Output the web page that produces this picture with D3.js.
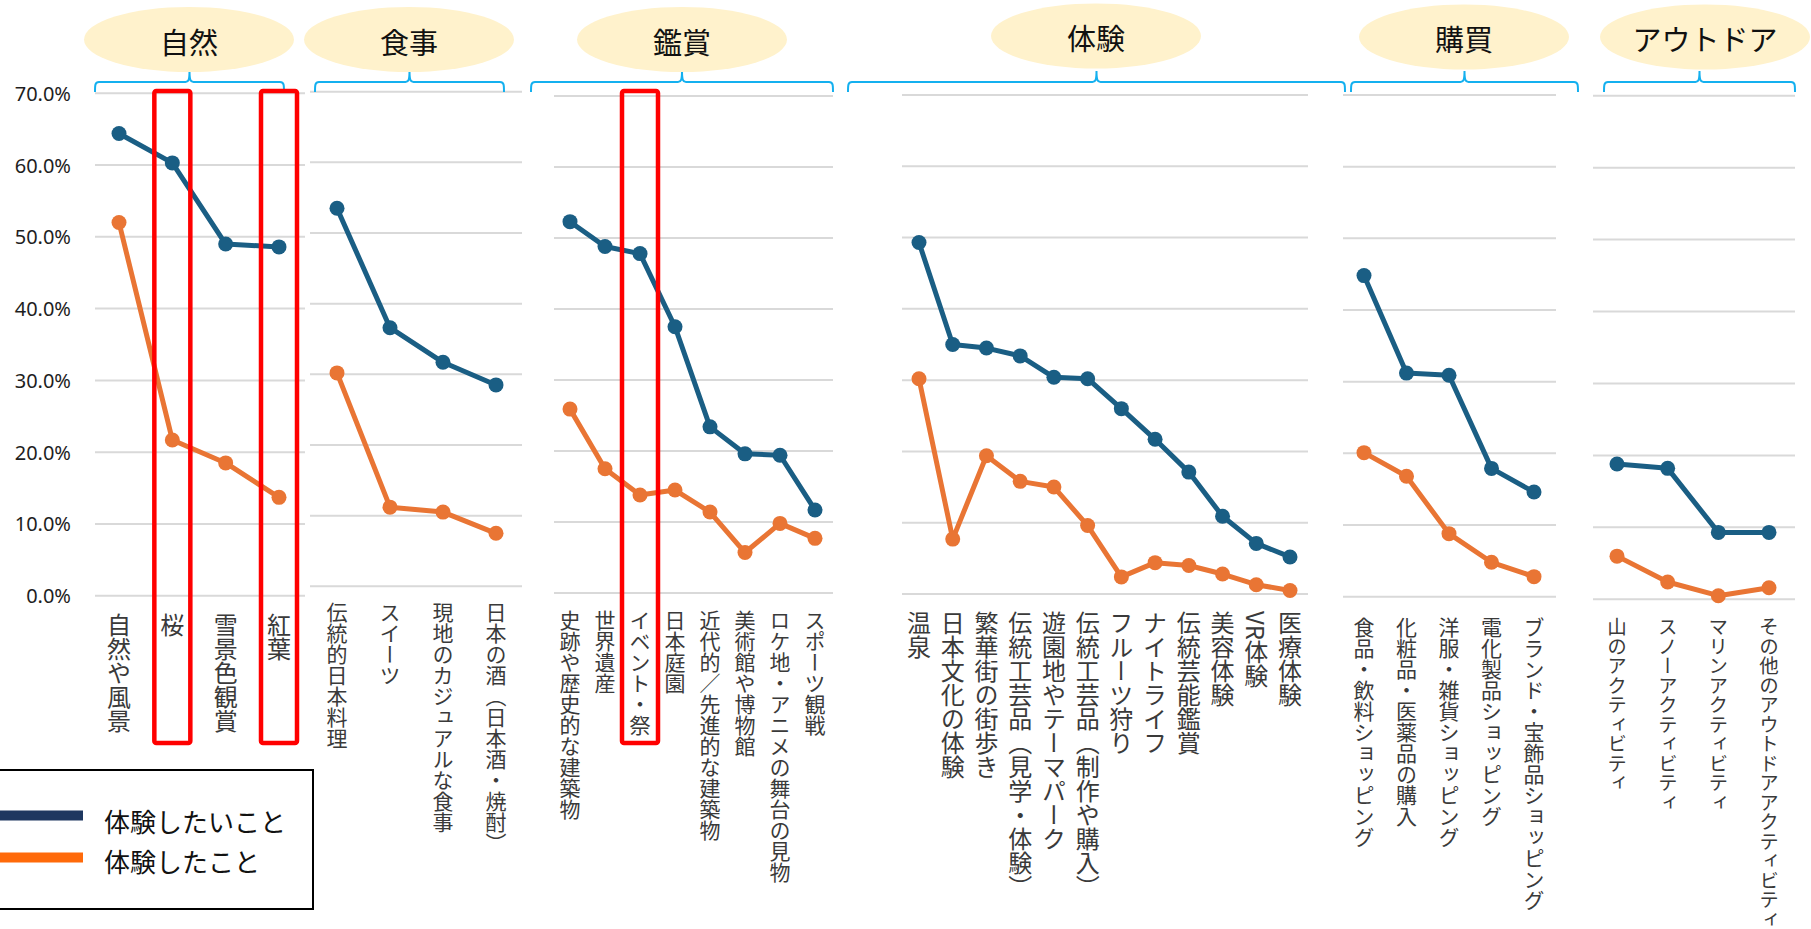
<!DOCTYPE html>
<html>
<head>
<meta charset="utf-8">
<script src="https://cdn.jsdelivr.net/npm/d3@7"></script>
<style>
	body { margin: 0; background: #fff; overflow: hidden; }
	text { font-family: "Noto Sans CJK JP", "Noto Sans", sans-serif; }
	.cat { writing-mode: vertical-rl; text-orientation: mixed; fill: #3a3a3a; }
</style>
</head>
<body>
<script>
(function (d3) {
	'use strict';

	var width = 1811,
	    height = 929;

	// data (%)
	var groupNames = ['自然', '食事', '鑑賞', '体験', '購買', 'アウトドア'];
	var seriesNames = ['体験したいこと', '体験したこと'];

	var natureCats = ['自然や風景', '桜', '雪景色観賞', '紅葉'];
	var natureWant = [64.4, 60.3, 49.0, 48.6];
	var natureDid  = [52.0, 21.7, 18.5, 13.7];

	var foodCats = ['伝統的日本料理', 'スイーツ', '現地のカジュアルな食事', '日本の酒（日本酒・焼酎）'];
	var foodWant = [53.5, 36.6, 31.7, 28.5];
	var foodDid  = [30.2, 11.2, 10.5, 7.5];

	var viewCats = ['史跡や歴史的な建築物', '世界遺産', 'イベント・祭', '日本庭園', '近代的／先進的な建築物', '美術館や博物館', 'ロケ地・アニメの舞台の見物', 'スポーツ観戦'];
	var viewWant = [52.3, 48.8, 47.8, 37.5, 23.4, 19.6, 19.4, 11.7];
	var viewDid  = [25.9, 17.5, 13.8, 14.5, 11.4, 5.7, 9.8, 7.7];

	var expCats = ['温泉', '日本文化の体験', '繁華街の街歩き', '伝統工芸品（見学・体験）', '遊園地やテーマパーク', '伝統工芸品（制作や購入）', 'フルーツ狩り', 'ナイトライフ', '伝統芸能鑑賞', '美容体験', 'VR体験', '医療体験'];
	var expWant = [49.3, 35.0, 34.5, 33.4, 30.4, 30.2, 26.0, 21.7, 17.1, 10.9, 7.1, 5.2];
	var expDid  = [30.2, 7.7, 19.4, 15.8, 15.0, 9.6, 2.4, 4.4, 4.0, 2.8, 1.3, 0.5];

	var shopCats = ['食品・飲料ショッピング', '化粧品・医薬品の購入', '洋服・雑貨ショッピング', '電化製品ショッピング', 'ブランド・宝飾品ショッピング'];
	var shopWant = [44.8, 31.2, 30.9, 17.9, 14.6];
	var shopDid  = [20.1, 16.8, 8.8, 4.8, 2.8];

	var outCats = ['山のアクティビティ', 'スノーアクティビティ', 'マリンアクティビティ', 'その他のアウトドアアクティビティ'];
	var outWant = [18.8, 18.2, 9.3, 9.3];
	var outDid  = [6.0, 2.4, 0.5, 1.6];

	var yTicks = [0, 10, 20, 30, 40, 50, 60, 70];
	var highlighted = ['桜', '紅葉', 'イベント・祭'];

	var cats = [natureCats, foodCats, viewCats, expCats, shopCats, outCats],
	    want = [natureWant, foodWant, viewWant, expWant, shopWant, outWant],
	    did  = [natureDid, foodDid, viewDid, expDid, shopDid, outDid];

	// each small chart was pasted at its own size
	var layout = [
		{ x: [119, 279], grid: [95, 305], y: [595.7, 93.3], brace: [95, 284], oval: [189, 39.5], lab: [613, 24] },
		{ x: [337, 496], grid: [310, 522], y: [586.3, 91.7], brace: [315, 504], oval: [409, 39.5], lab: [602, 21] },
		{ x: [570, 815], grid: [554, 833], y: [593, 96], brace: [531, 833], oval: [682, 39.5], lab: [610, 21] },
		{ x: [919, 1290], grid: [902, 1308], y: [594, 95], brace: [848, 1345], oval: [1096, 36], lab: [611, 24] },
		{ x: [1364, 1534], grid: [1343, 1556], y: [596.7, 95], brace: [1351, 1578], oval: [1464, 37], lab: [617, 21] },
		{ x: [1617, 1769], grid: [1593, 1795], y: [599.3, 95.7], brace: [1604, 1795], oval: [1705, 37], lab: [617, 19.5] }
	];

	var colors = ['#1a5e84', '#e97534'],
	    legendColors = ['#1e3760', '#ff6a0a'];

	var svg = d3.select('body')
			.append('svg')
			.attr('width', width)
			.attr('height', height);

	// y axis (first chart)
	var y0 = d3.scaleLinear().domain([0, 70]).range(layout[0].y);
	var axis = d3.axisLeft(y0)
		.tickValues(yTicks)
		.tickSize(0)
		.tickPadding(0)
		.tickFormat(function (d) { return d.toFixed(1) + '%'; });
	var ax = svg.append('g')
		.attr('transform', 'translate(71,0)')
		.call(axis);
	ax.select('.domain').remove();
	ax.selectAll('text')
		.attr('font-size', '20px')
		.attr('fill', '#1e1e1e')
		.attr('dy', '0.35em')
		.style('font-family', '"Noto Sans", sans-serif');

	function brace(x0, x1) {
		var m = (x0 + x1) / 2;
		return 'M' + x0 + ',92 C' + x0 + ',85 ' + x0 + ',82 ' + (x0 + 4) + ',82' +
			' L' + (m - 4) + ',82 C' + (m - 1) + ',82 ' + m + ',80 ' + m + ',71' +
			' C' + m + ',80 ' + (m + 1) + ',82 ' + (m + 4) + ',82' +
			' L' + (x1 - 4) + ',82 C' + x1 + ',82 ' + x1 + ',85 ' + x1 + ',92';
	}

	layout.forEach(function (p, gi) {
		var x = d3.scalePoint().domain(cats[gi]).range(p.x),
		    y = d3.scaleLinear().domain([0, 70]).range(p.y),
		    g = svg.append('g');

		g.selectAll('line.grid')
			.data(yTicks)
			.enter()
			.append('line')
			.attr('class', 'grid')
			.attr('x1', p.grid[0])
			.attr('x2', p.grid[1])
			.attr('y1', function (d) { return y(d); })
			.attr('y2', function (d) { return y(d); })
			.attr('stroke', '#d9d9d9')
			.attr('stroke-width', 2);

		g.append('path')
			.attr('d', brace(p.brace[0], p.brace[1]))
			.attr('fill', 'none')
			.attr('stroke', '#14b0ef')
			.attr('stroke-width', 2);

		g.append('ellipse')
			.attr('cx', p.oval[0])
			.attr('cy', p.oval[1])
			.attr('rx', 105)
			.attr('ry', 32.5)
			.attr('fill', '#fff2cc');

		g.append('text')
			.attr('x', p.oval[0])
			.attr('y', p.oval[1] + 1)
			.attr('text-anchor', 'middle')
			.attr('dominant-baseline', 'central')
			.attr('font-size', '29px')
			.attr('fill', '#111')
			.text(groupNames[gi]);

		var series = [want[gi], did[gi]];
		var line = d3.line()
			.x(function (d, i) { return x(cats[gi][i]); })
			.y(function (d) { return y(d); });

		series.forEach(function (vals, si) {
			g.append('path')
				.datum(vals)
				.attr('d', line)
				.attr('fill', 'none')
				.attr('stroke', colors[si])
				.attr('stroke-width', 5)
				.attr('stroke-linejoin', 'round');
			g.selectAll('circle.s' + si)
				.data(vals)
				.enter()
				.append('circle')
				.attr('class', 's' + si)
				.attr('cx', function (d, i) { return x(cats[gi][i]); })
				.attr('cy', function (d) { return y(d); })
				.attr('r', 7.5)
				.attr('fill', colors[si]);
		});

		g.selectAll('text.cat')
			.data(cats[gi])
			.enter()
			.append('text')
			.attr('class', 'cat')
			.attr('x', function (d) { return x(d); })
			.attr('y', p.lab[0])
			.attr('font-size', p.lab[1] + 'px')
			.text(function (d) { return d; });

		g.selectAll('rect.hl')
			.data(cats[gi].filter(function (d) { return highlighted.indexOf(d) >= 0; }))
			.enter()
			.append('rect')
			.attr('class', 'hl')
			.attr('x', function (d) { return x(d) - 18; })
			.attr('y', 91)
			.attr('width', 36)
			.attr('height', 652)
			.attr('rx', 2)
			.attr('fill', 'none')
			.attr('stroke', '#ff0000')
			.attr('stroke-width', 4.5);
	});

	// legend
	var lg = svg.append('g');
	lg.append('rect')
		.attr('x', -3)
		.attr('y', 770)
		.attr('width', 316)
		.attr('height', 139)
		.attr('fill', '#fff')
		.attr('stroke', '#000')
		.attr('stroke-width', 2);
	seriesNames.forEach(function (name, i) {
		lg.append('line')
			.attr('x1', 0)
			.attr('x2', 83)
			.attr('y1', 815.5 + i * 42)
			.attr('y2', 815.5 + i * 42)
			.attr('stroke', legendColors[i])
			.attr('stroke-width', 10);
		lg.append('text')
			.attr('x', 104)
			.attr('y', 820 + i * 40)
			.attr('dominant-baseline', 'central')
			.attr('font-size', '26px')
			.attr('fill', '#111')
			.text(name);
	});
})(d3);
</script>
</body>
</html>
